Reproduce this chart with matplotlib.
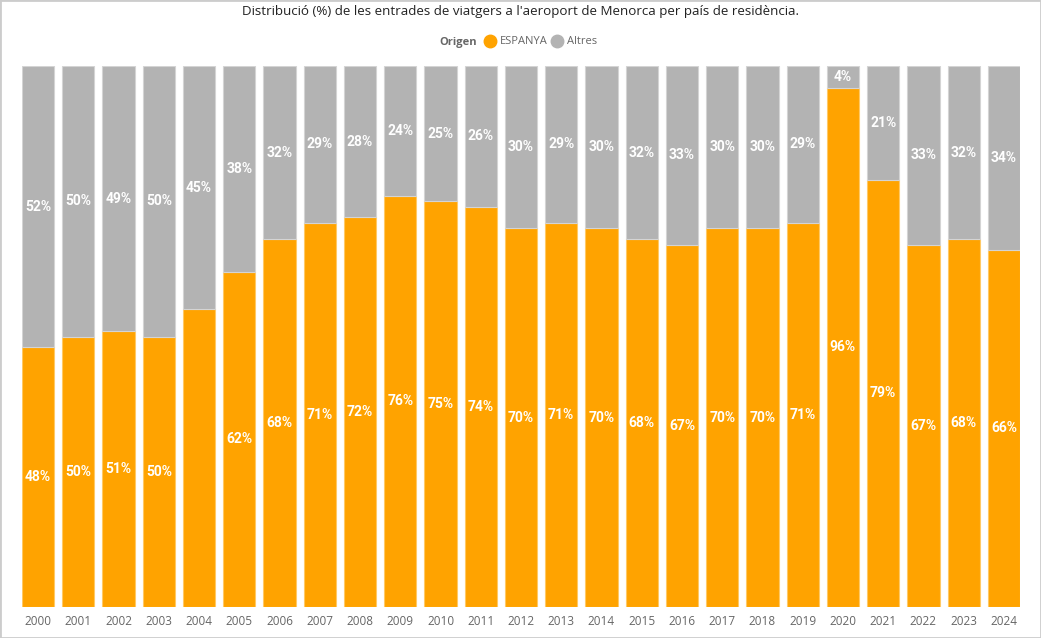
import matplotlib.pyplot as plt
from matplotlib.patches import Rectangle
from matplotlib.lines import Line2D

years = [str(y) for y in range(2000, 2025)]
espanya = [48, 50, 51, 50, 55, 62, 68, 71, 72, 76, 75, 74, 70, 71, 70, 68, 67, 70, 70, 71, 96, 79, 67, 68, 66]
altres = [52, 50, 49, 50, 45, 38, 32, 29, 28, 24, 25, 26, 30, 29, 30, 32, 33, 30, 30, 29, 4, 21, 33, 32, 34]
# the report leaves the 2004 ESPANYA label out
hide_esp = ["2004"]

ORANGE = "#FFA300"
GRAY = "#B3B3B3"

fig = plt.figure(figsize=(10.41, 6.38), dpi=100)
ax = fig.add_axes([22 / 1041, 1 - 607 / 638, 998 / 1041, 541 / 638])

x = list(range(len(years)))
ax.bar(x, espanya, width=0.8, color=ORANGE, edgecolor="#FFC966", linewidth=0.8)
ax.bar(x, altres, width=0.8, bottom=espanya, color=GRAY, edgecolor="#D4D4D4", linewidth=0.8)

lab = dict(color="white", fontsize=10, fontweight="bold", ha="center", va="center", family="Roboto")
for i, y in enumerate(years):
    if y not in hide_esp:
        ax.text(i, espanya[i] / 2, f"{espanya[i]}%", **lab)
    ax.text(i, espanya[i] + altres[i] / 2, f"{altres[i]}%", **lab)

ax.set_xlim(-0.4, 24.4)
ax.set_ylim(0, 100)
ax.set_yticks([])
ax.set_xticks(x)
ax.set_xticklabels(years, color="#666666", fontsize=8.5, family="Open Sans")
ax.tick_params(axis="x", length=0, pad=6)
for s in ax.spines.values():
    s.set_visible(False)

fig.text(0.5, 1 - 12 / 638, "Distribució (%) de les entrades de viatgers a l'aeroport de Menorca per país de residència.",
         ha="center", va="center", fontsize=9.6, color="#222222", family="Open Sans")

handles = [Line2D([], [], marker="o", linestyle="", markersize=9, color=ORANGE),
           Line2D([], [], marker="o", linestyle="", markersize=9, color=GRAY)]
leg = fig.legend(handles, ["ESPANYA", "Altres"], loc="center left", bbox_to_anchor=(483 / 1041, 1 - 42 / 638),
                 ncol=2, frameon=False, handletextpad=0.3, columnspacing=0.3,
                 handlelength=1.2, borderpad=0, borderaxespad=0,
                 prop={"family": "Open Sans", "size": 8})
for t in leg.get_texts():
    t.set_color("#666666")
fig.text(477 / 1041, 1 - 42 / 638, "Origen", ha="right", va="center", fontsize=8, fontweight="bold",
         color="#666666", family="Open Sans")

fig.patches.append(Rectangle((0, 0), 1, 1, transform=fig.transFigure, fill=False,
                             edgecolor="#CCCCCC", linewidth=2))

fig.savefig("out.png", dpi=100)
